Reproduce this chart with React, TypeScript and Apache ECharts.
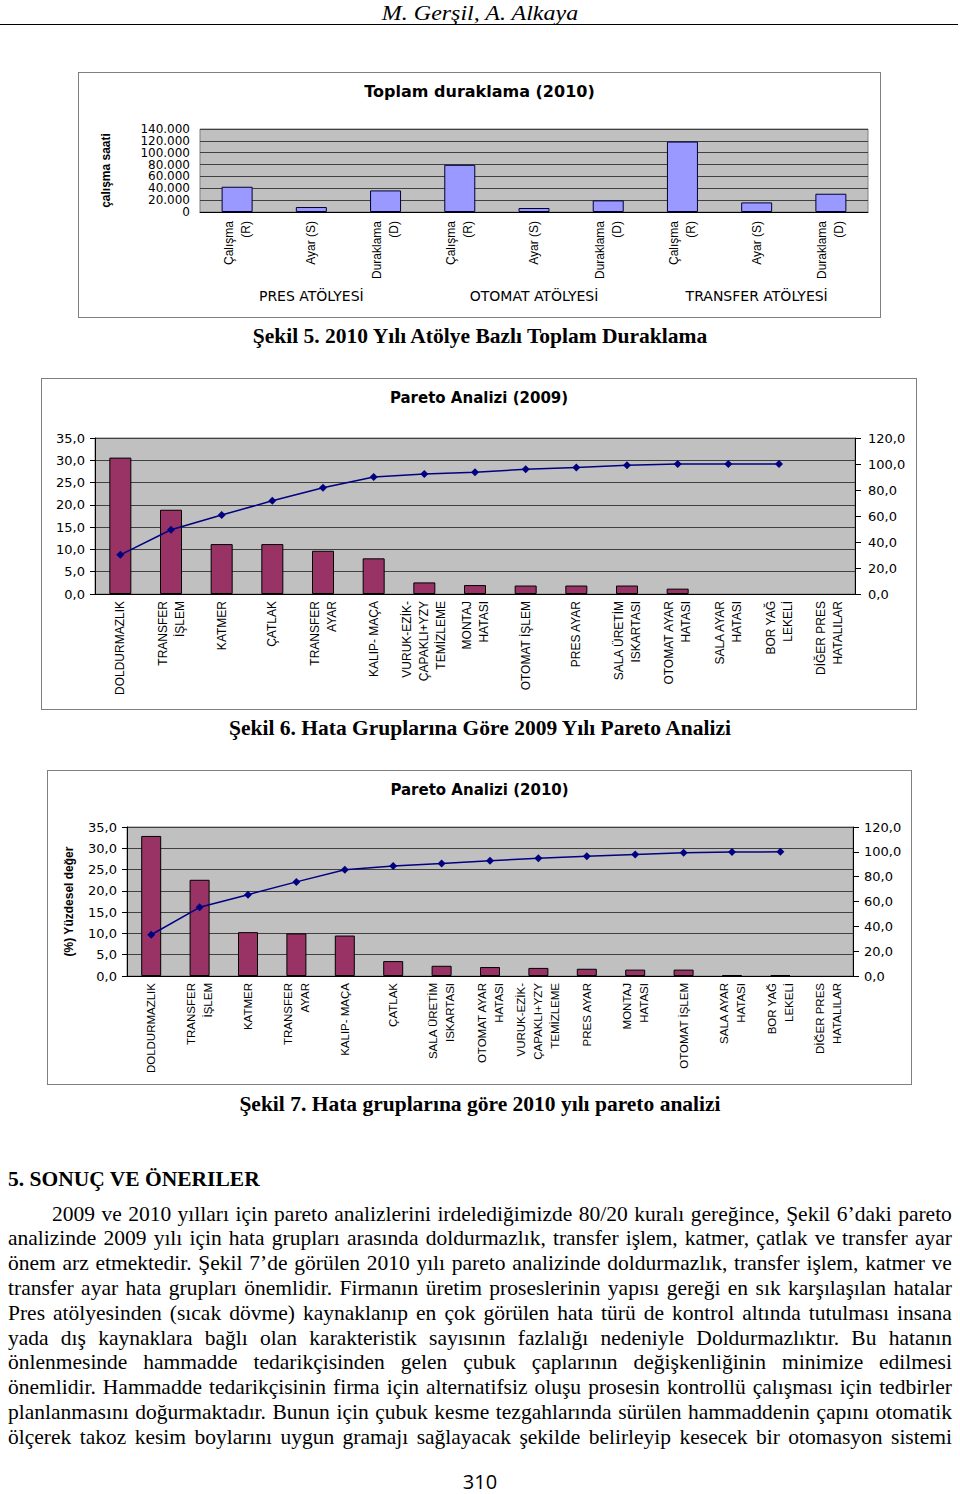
import React, { useEffect, useRef } from "react";
import * as echarts from "echarts";

// ---------- Figure 5: Toplam duraklama (2010) ----------
const workshops = ["PRES ATÖLYESİ", "OTOMAT ATÖLYESİ", "TRANSFER ATÖLYESİ"];
const stopTypes = ["Çalışma\n(R)", "Ayar (S)", "Duraklama\n(D)"];
const presHours = [42600, 8400, 36400];
const otomatHours = [79600, 6700, 19600];
const transferHours = [118800, 16200, 30800];

// ---------- Figure 6: Pareto Analizi (2009) ----------
const defects2009 = [
  "DOLDURMAZLIK",
  "TRANSFER\nİŞLEM",
  "KATMER",
  "ÇATLAK",
  "TRANSFER\nAYAR",
  "KALIP- MAÇA",
  "VURUK-EZİK-\nÇAPAKLI+YZY\nTEMİZLEME",
  "MONTAJ\nHATASI",
  "OTOMAT İŞLEM",
  "PRES AYAR",
  "SALA ÜRETİM\nISKARTASI",
  "OTOMAT AYAR\nHATASI",
  "SALA AYAR\nHATASI",
  "BOR YAĞ\nLEKELİ",
  "DİĞER PRES\nHATALILAR",
];
const share2009 = [30.6, 18.9, 11.2, 11.2, 9.7, 8.0, 2.6, 2.0, 1.9, 1.9, 1.9, 1.2, 0, 0, 0];
const cumulative2009 = [30.1, 49.4, 60.7, 71.7, 81.7, 90.0, 92.3, 93.6, 95.9, 97.4, 99.0, 100.0, 100.0, 100.0];

// ---------- Figure 7: Pareto Analizi (2010) ----------
const defects2010 = [
  "DOLDURMAZLIK",
  "TRANSFER\nİŞLEM",
  "KATMER",
  "TRANSFER\nAYAR",
  "KALIP- MAÇA",
  "ÇATLAK",
  "SALA ÜRETİM\nISKARTASI",
  "OTOMAT AYAR\nHATASI",
  "VURUK-EZİK-\nÇAPAKLI+YZY\nTEMİZLEME",
  "PRES AYAR",
  "MONTAJ\nHATASI",
  "OTOMAT İŞLEM",
  "SALA AYAR\nHATASI",
  "BOR YAĞ\nLEKELİ",
  "DİĞER PRES\nHATALILAR",
];
const share2010 = [32.9, 22.6, 10.3, 10.0, 9.5, 3.5, 2.4, 2.1, 1.9, 1.7, 1.5, 1.5, 0.2, 0.2, 0];
const cumulative2010 = [33.2, 55.3, 65.5, 75.8, 85.5, 88.5, 90.6, 92.8, 94.9, 96.5, 97.9, 99.2, 99.8, 100.0];

// ---------- Page text ----------
const headerText = "M. Gerşil, A. Alkaya";
const caption5 = "Şekil 5. 2010 Yılı Atölye Bazlı Toplam Duraklama";
const caption6 = "Şekil 6. Hata Gruplarına Göre 2009 Yılı Pareto Analizi";
const caption7 = "Şekil 7. Hata gruplarına göre 2010 yılı pareto analizi";
const sectionTitle = "5. SONUÇ VE ÖNERILER";
const paragraphLines = [
  "2009 ve 2010 yılları için pareto analizlerini irdelediğimizde 80/20 kuralı gereğince, Şekil 6’daki pareto",
  "analizinde 2009 yılı için hata grupları arasında doldurmazlık, transfer işlem, katmer, çatlak ve transfer ayar",
  "önem arz etmektedir. Şekil 7’de görülen 2010 yılı pareto analizinde doldurmazlık, transfer işlem, katmer ve",
  "transfer ayar hata grupları önemlidir. Firmanın üretim proseslerinin yapısı gereği en sık karşılaşılan hatalar",
  "Pres atölyesinden (sıcak dövme) kaynaklanıp en çok görülen hata türü de kontrol altında tutulması insana",
  "yada dış kaynaklara bağlı olan karakteristik sayısının fazlalığı nedeniyle Doldurmazlıktır. Bu hatanın",
  "önlenmesinde hammadde tedarikçisinden gelen çubuk çaplarının değişkenliğinin minimize edilmesi",
  "önemlidir. Hammadde tedarikçisinin firma için alternatifsiz oluşu prosesin kontrollü çalışması için tedbirler",
  "planlanmasını doğurmaktadır. Bunun için çubuk kesme tezgahlarında sürülen hammaddenin çapını otomatik",
  "ölçerek takoz kesim boylarını uygun gramajı sağlayacak şekilde belirleyip kesecek bir otomasyon sistemi",
];
const pageNumber = "310";

const SANS = "'Liberation Sans', Arial, sans-serif";
const WIDE = "'DejaVu Sans', sans-serif";
const SERIF = "'Liberation Serif', 'Times New Roman', serif";

const fmtComma = (v: number) => v.toFixed(1).replace(".", ",");
const fmtThousands = (v: number) => String(v).replace(/\B(?=(\d{3})+(?!\d))/g, ".");
const noZeroBar = (arr: number[]) => arr.map((v) => (v === 0 ? "-" : v));

const categories5 = workshops.flatMap((w) => stopTypes.map((t) => w + " " + t));
const hours5 = [...presHours, ...otomatHours, ...transferHours];

const option5: any = {
  animation: false,
  title: {
    text: "Toplam duraklama (2010)",
    left: "center",
    top: 5,
    textStyle: { fontFamily: WIDE, fontWeight: "bold", fontSize: 16, color: "#000" },
  },
  grid: {
    left: 121,
    top: 56,
    width: 668,
    height: 83,
    show: true,
    backgroundColor: "#C0C0C0",
    borderColor: "#808080",
    borderWidth: 1,
  },
  xAxis: [
    {
      type: "category",
      data: categories5,
      position: "bottom",
      axisLine: { lineStyle: { color: "#000" } },
      axisTick: { length: 58, lineStyle: { color: "#808080" } },
      axisLabel: {
        interval: 0,
        rotate: 90,
        margin: 9,
        fontFamily: SANS,
        fontSize: 12,
        lineHeight: 17,
        color: "#000",
        formatter: (_v: string, i: number) => stopTypes[i % stopTypes.length],
      },
    },
    {
      type: "category",
      data: workshops,
      position: "bottom",
      axisLine: { show: false },
      axisTick: { length: 92, lineStyle: { color: "#808080" } },
      axisLabel: { margin: 77, fontFamily: WIDE, fontSize: 14, color: "#000" },
    },
  ],
  yAxis: {
    type: "value",
    min: 0,
    max: 140000,
    interval: 20000,
    name: "çalışma saati",
    nameLocation: "middle",
    nameRotate: 90,
    nameGap: 88,
    nameTextStyle: { fontFamily: SANS, fontSize: 12, fontWeight: "bold", color: "#000" },
    axisLine: { show: false },
    axisTick: { show: false },
    axisLabel: {
      margin: 10,
      fontFamily: WIDE,
      fontSize: 12,
      lineHeight: 12,
      color: "#000",
      showMinLabel: true,
      showMaxLabel: true,
      formatter: fmtThousands,
    },
    splitLine: { lineStyle: { color: "#404040", width: 1 } },
  },
  series: [
    {
      type: "bar",
      data: hours5,
      barWidth: 31,
      itemStyle: { color: "#9999FF", borderColor: "#000033", borderWidth: 1 },
    },
  ],
};

function paretoOption(
  title: string,
  cats: string[],
  shares: number[],
  cumul: number[],
  g: { left: number; top: number; width: number; height: number },
  barWidth: number,
  labelSize: number,
  rightMargin: number,
  yName?: string
): any {
  return {
    animation: false,
    title: {
      text: title,
      left: "center",
      top: 6,
      textStyle: { fontFamily: WIDE, fontWeight: "bold", fontSize: 15, color: "#000" },
    },
    grid: {
      ...g,
      show: true,
      backgroundColor: "#C0C0C0",
      borderColor: "#808080",
      borderWidth: 1,
    },
    xAxis: {
      type: "category",
      data: cats,
      axisLine: { lineStyle: { color: "#000" } },
      axisTick: { length: 5, lineStyle: { color: "#000" } },
      axisLabel: {
        interval: 0,
        rotate: 90,
        margin: 7,
        fontFamily: SANS,
        fontSize: labelSize,
        lineHeight: 17,
        color: "#000",
      },
    },
    yAxis: [
      {
        type: "value",
        min: 0,
        max: 35,
        interval: 5,
        name: yName,
        nameLocation: "middle",
        nameRotate: 90,
        nameGap: 52,
        nameTextStyle: { fontFamily: SANS, fontSize: 12, fontWeight: "bold", color: "#000" },
        axisLine: { show: true, lineStyle: { color: "#000" } },
        axisTick: { show: true, length: 5, lineStyle: { color: "#000" } },
        axisLabel: {
          margin: 10,
          fontFamily: WIDE,
          fontSize: 13,
          color: "#000",
          showMinLabel: true,
          showMaxLabel: true,
          formatter: fmtComma,
        },
        splitLine: { lineStyle: { color: "#404040", width: 1 } },
      },
      {
        type: "value",
        min: 0,
        max: 120,
        interval: 20,
        position: "right",
        axisLine: { show: true, lineStyle: { color: "#000" } },
        axisTick: { show: true, length: 6, lineStyle: { color: "#000" } },
        axisLabel: {
          margin: rightMargin,
          fontFamily: WIDE,
          fontSize: 13,
          color: "#000",
          showMinLabel: true,
          showMaxLabel: true,
          formatter: fmtComma,
        },
        splitLine: { show: false },
      },
    ],
    series: [
      {
        type: "bar",
        data: noZeroBar(shares),
        barWidth,
        itemStyle: { color: "#993366", borderColor: "#000", borderWidth: 1 },
      },
      {
        type: "line",
        yAxisIndex: 1,
        data: cumul,
        symbol: "diamond",
        symbolSize: 8,
        lineStyle: { color: "#000080", width: 1.5 },
        itemStyle: { color: "#000080" },
      },
    ],
  };
}

const option6 = paretoOption(
  "Pareto Analizi (2009)",
  defects2009,
  share2009,
  cumulative2009,
  { left: 53, top: 59, width: 760, height: 156 },
  22,
  12,
  13
);
const option7 = paretoOption(
  "Pareto Analizi (2010)",
  defects2010,
  share2010,
  cumulative2010,
  { left: 79, top: 56, width: 726, height: 149 },
  20,
  11.5,
  11,
  "(%) Yüzdesel değer"
);

function EChart({ option, width, height }: { option: any; width: number; height: number }) {
  const ref = useRef<HTMLDivElement>(null);
  useEffect(() => {
    if (!ref.current) return;
    const chart = echarts.init(ref.current, null, { renderer: "svg" });
    chart.setOption(option);
    return () => chart.dispose();
  }, [option]);
  return <div ref={ref} style={{ width, height }} />;
}

function ChartBox({ left, top, width, height, option }: any) {
  return (
    <div
      style={{
        position: "absolute",
        left,
        top,
        width,
        height,
        border: "1px solid #7f7f7f",
        boxSizing: "border-box",
        background: "#fff",
      }}
    >
      <EChart option={option} width={width - 2} height={height - 2} />
    </div>
  );
}

function JustLine({ text, left, top, width }: { text: string; left: number; top: number; width: number }) {
  const words = text.split(/\s+/);
  return (
    <div
      style={{
        position: "absolute",
        left,
        top,
        width,
        height: 25,
        display: "flex",
        justifyContent: "space-between",
        whiteSpace: "nowrap",
        fontSize: 21.5,
        lineHeight: "25px",
      }}
    >
      {words.map((w, i) => (
        <span key={i}>{w}</span>
      ))}
    </div>
  );
}

export default function App() {
  const centered = (top: number, text: string, extra: any = {}) => (
    <div
      style={{
        position: "absolute",
        left: 0,
        top,
        width: 960,
        textAlign: "center",
        fontSize: 21.5,
        lineHeight: "24px",
        ...extra,
      }}
    >
      {text}
    </div>
  );
  return (
    <div
      style={{
        position: "absolute",
        left: 0,
        top: 0,
        width: 960,
        height: 1494,
        background: "#fff",
        color: "#000",
        fontFamily: SERIF,
        overflow: "hidden",
      }}
    >
      {centered(0, headerText, {
        fontStyle: "italic",
        fontSize: 22,
        lineHeight: "normal",
        transform: "scaleX(1.09)",
        transformOrigin: "480px 0",
      })}
      <div style={{ position: "absolute", left: 0, top: 24, width: 958, borderTop: "1.5px solid #000" }} />

      <ChartBox left={78} top={72} width={803} height={246} option={option5} />
      {centered(324, caption5, { fontWeight: "bold" })}

      <ChartBox left={41} top={378} width={876} height={332} option={option6} />
      {centered(716, caption6, { fontWeight: "bold" })}

      <ChartBox left={47} top={770} width={865} height={315} option={option7} />
      {centered(1092, caption7, { fontWeight: "bold" })}

      <div style={{ position: "absolute", left: 8, top: 1167, fontSize: 21.5, lineHeight: "24px", fontWeight: "bold" }}>
        {sectionTitle}
      </div>
      {paragraphLines.map((line, i) => (
        <JustLine
          key={i}
          text={line}
          left={i === 0 ? 52 : 8}
          top={1201.5 + i * 24.8}
          width={i === 0 ? 900 : 944}
        />
      ))}
      <div
        style={{
          position: "absolute",
          left: 0,
          top: 1469,
          width: 960,
          textAlign: "center",
          fontFamily: "'Open Sans', sans-serif",
          fontSize: 20,
          lineHeight: "26px",
        }}
      >
        {pageNumber}
      </div>
    </div>
  );
}
